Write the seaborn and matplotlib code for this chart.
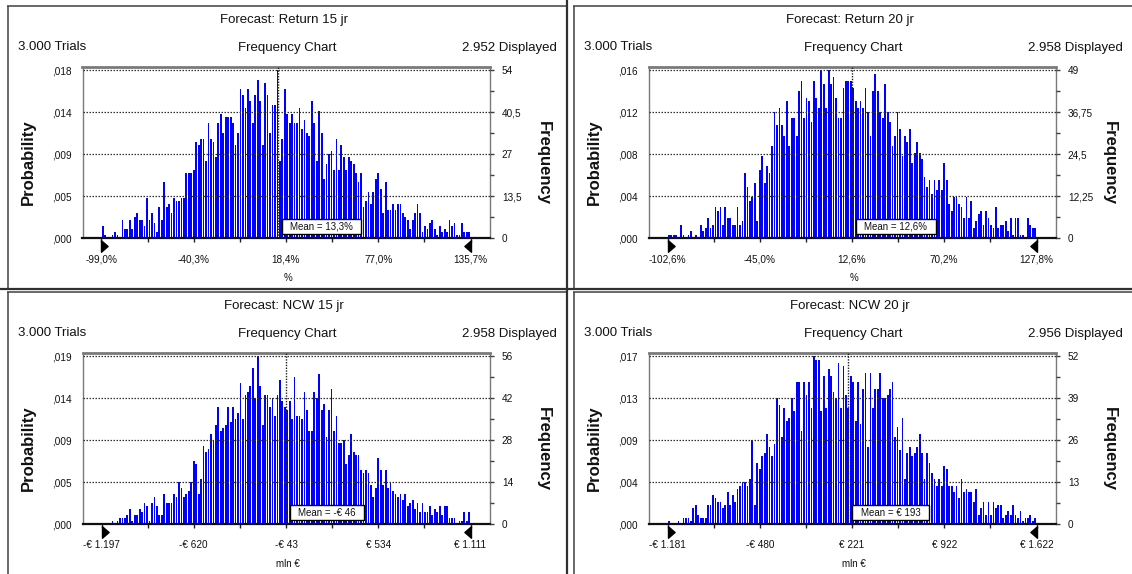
import numpy as np
import pandas as pd
import matplotlib
matplotlib.use("Agg")
import matplotlib.pyplot as plt
import seaborn as sns
from matplotlib.path import Path
from matplotlib.lines import Line2D
from matplotlib.transforms import blended_transform_factory

sns.set_style("white")
plt.rcParams["font.family"] = ["Liberation Sans", "DejaVu Sans"]

W, H = 1132, 574

# ---------------- data ----------------
titles = ["Forecast: Return 15 jr", "Forecast: Return 20 jr",
          "Forecast: NCW 15 jr", "Forecast: NCW 20 jr"]
trials = ["3.000 Trials", "3.000 Trials", "3.000 Trials", "3.000 Trials"]
displayed = ["2.952 Displayed", "2.958 Displayed", "2.958 Displayed", "2.956 Displayed"]
ranges = [(-99.0, 135.7), (-102.6, 127.8), (-1197.0, 1111.0), (-1180.6, 1622.4)]
means = [13.3, 12.6, -46.0, 193.0]
mean_labels = ["Mean = 13,3%", "Mean = 12,6%", "Mean = -€ 46", "Mean = € 193"]
x_labels = [["-99,0%", "-40,3%", "18,4%", "77,0%", "135,7%"],
            ["-102,6%", "-45,0%", "12,6%", "70,2%", "127,8%"],
            ["-€ 1.197", "-€ 620", "-€ 43", "€ 534", "€ 1.111"],
            ["-€ 1.181", "-€ 480", "€ 221", "€ 922", "€ 1.622"]]
x_units = ["%", "%", "mln €", "mln €"]
freq_max = [54, 49, 56, 52]
freq_labels = [["0", "13,5", "27", "40,5", "54"],
               ["0", "12,25", "24,5", "36,75", "49"],
               ["0", "14", "28", "42", "56"],
               ["0", "13", "26", "39", "52"]]
prob_labels = [[",000", ",005", ",009", ",014", ",018"],
               [",000", ",004", ",008", ",012", ",016"],
               [",000", ",005", ",009", ",014", ",019"],
               [",000", ",004", ",009", ",013", ",017"]]

counts_return15 = [
    4, 1, 0, 0, 1, 2, 1, 0, 6, 3,
    3, 6, 3, 7, 8, 6, 6, 4, 13, 6,
    8, 5, 2, 10, 6, 18, 10, 11, 8, 13,
    12, 12, 13, 13, 21, 21, 21, 22, 31, 30,
    32, 32, 25, 37, 32, 31, 26, 37, 40, 34,
    39, 39, 39, 37, 30, 34, 48, 46, 42, 48,
    44, 37, 46, 51, 44, 30, 50, 46, 34, 43,
    43, 54, 25, 32, 48, 40, 37, 40, 37, 37,
    42, 35, 38, 34, 33, 44, 37, 25, 41, 34,
    19, 24, 27, 28, 22, 32, 22, 30, 26, 22,
    26, 25, 24, 21, 18, 21, 10, 12, 15, 11,
    15, 19, 21, 16, 8, 18, 9, 9, 11, 9,
    11, 11, 8, 7, 6, 3, 6, 8, 11, 8,
    2, 4, 3, 5, 6, 3, 1, 4, 2, 3,
    2, 6, 4, 5, 1, 1, 5, 2, 2, 2]

counts_return20 = [
    1, 1, 1, 1, 0, 4, 1, 0, 1, 2,
    0, 1, 0, 4, 2, 3, 6, 3, 4, 9,
    8, 9, 4, 9, 6, 6, 4, 4, 9, 4,
    5, 19, 15, 11, 12, 16, 5, 20, 24, 16,
    21, 19, 27, 37, 33, 38, 33, 30, 40, 27,
    35, 35, 30, 43, 46, 35, 41, 40, 34, 46,
    41, 38, 49, 45, 38, 49, 45, 47, 41, 35,
    35, 44, 46, 46, 46, 44, 40, 38, 40, 38,
    44, 37, 30, 43, 48, 43, 37, 35, 45, 37,
    34, 27, 30, 37, 32, 24, 30, 28, 32, 22,
    25, 28, 25, 23, 18, 15, 17, 13, 17, 14,
    17, 14, 22, 17, 10, 8, 12, 12, 10, 9,
    6, 12, 6, 11, 3, 5, 7, 8, 4, 8,
    6, 4, 3, 9, 3, 4, 4, 5, 2, 6,
    1, 6, 6, 1, 1, 0, 6, 4, 3, 3]

counts_ncw15 = [
    0, 0, 0, 0, 1, 0, 1, 2, 2, 2,
    3, 5, 1, 3, 3, 5, 4, 7, 6, 1,
    7, 9, 6, 3, 3, 10, 7, 7, 7, 10,
    9, 14, 12, 9, 10, 11, 14, 21, 20, 10,
    15, 26, 24, 25, 30, 28, 33, 39, 31, 32,
    33, 39, 34, 39, 35, 37, 47, 35, 43, 44,
    46, 52, 42, 56, 46, 33, 43, 43, 39, 42,
    36, 43, 48, 41, 39, 38, 41, 35, 49, 36,
    36, 35, 44, 38, 31, 31, 44, 42, 50, 38,
    40, 29, 38, 45, 31, 36, 27, 27, 28, 20,
    23, 30, 24, 23, 23, 18, 17, 18, 17, 13,
    9, 12, 22, 18, 13, 18, 12, 14, 11, 10,
    9, 10, 8, 10, 6, 7, 8, 5, 7, 4,
    7, 4, 4, 6, 3, 5, 4, 6, 3, 6,
    6, 2, 2, 2, 0, 1, 1, 4, 1, 4]

counts_ncw20 = [
    1, 0, 0, 0, 1, 0, 2, 2, 2, 1,
    5, 6, 3, 2, 2, 2, 6, 6, 9, 8,
    7, 7, 5, 6, 10, 6, 9, 7, 11, 12,
    13, 13, 12, 14, 26, 6, 19, 17, 21, 22,
    28, 24, 21, 25, 39, 37, 27, 36, 32, 33,
    39, 35, 44, 44, 29, 44, 40, 44, 36, 52,
    51, 51, 35, 46, 36, 48, 46, 41, 39, 50,
    36, 49, 40, 36, 46, 44, 32, 44, 31, 42,
    47, 24, 47, 36, 42, 42, 47, 39, 39, 40,
    42, 44, 27, 30, 23, 33, 14, 22, 24, 21,
    22, 24, 28, 22, 14, 22, 19, 16, 14, 12,
    14, 12, 18, 17, 12, 12, 10, 12, 8, 14,
    10, 11, 10, 10, 7, 11, 3, 5, 7, 3,
    7, 3, 7, 5, 6, 6, 2, 3, 4, 3,
    6, 3, 2, 4, 1, 2, 2, 3, 1, 2]

all_counts = [counts_return15, counts_return20, counts_ncw15, counts_ncw20]

# ---------------- layout helpers (pixel based) ----------------
fig = plt.figure(figsize=(W / 100, H / 100), dpi=100)
fig.patch.set_facecolor("white")


def fx(px):
    return px / W


def fy(py):
    return 1 - py / H


def fig_line(x0, y0, x1, y1, lw=1.0, color="#404040"):
    fig.add_artist(Line2D([fx(x0), fx(x1)], [fy(y0), fy(y1)], transform=fig.transFigure,
                          lw=lw, color=color, solid_capstyle="butt"))


def wide_box(x0, y0, width, height, mutation_size):
    padx = 0.85 * mutation_size
    pady = 0.22 * mutation_size
    xa, ya = x0 - padx, y0 - pady
    xb, yb = x0 + width + padx, y0 + height + pady
    return Path([(xa, ya), (xb, ya), (xb, yb), (xa, yb), (xa, ya)], closed=True)


tri_right = Path([(0, -1), (0, 1), (1.15, 0), (0, -1)], closed=True)
tri_left = Path([(0, -1), (0, 1), (-1.15, 0), (0, -1)], closed=True)

origins = [(0, 0), (566, 0), (0, 286), (566, 286)]
AX_L, AX_R, AX_T, AX_B = 82.5, 490.0, 66.7, 238.3
BAR_L, BAR_R = 101.5, 470.5

for k, (ox, oy) in enumerate(origins):
    lo, hi = ranges[k]
    R = hi - lo
    counts = np.array(all_counts[k], dtype=float)
    n = len(counts)
    edges = np.linspace(lo, hi, n + 1)
    centers = (edges[:-1] + edges[1:]) / 2
    df = pd.DataFrame({"value": centers, "count": counts})
    fmax = freq_max[k]
    levels = np.linspace(0, fmax, 5)

    ax = fig.add_axes([fx(ox + AX_L), fy(oy + AX_B), (AX_R - AX_L) / W, (AX_B - AX_T) / H])
    sns.histplot(data=df, x="value", weights="count", bins=list(edges), shrink=0.72,
                 color="#0000ff", alpha=1, linewidth=0, ax=ax, zorder=2)
    per_px = R / (BAR_R - BAR_L)
    ax.set_xlim(lo - (BAR_L - AX_L) * per_px, hi + (AX_R - BAR_R) * per_px)
    ax.set_ylim(0, fmax * 1.022)
    ax.set_xlabel("")
    ax.set_ylabel("")

    # grid lines (dotted) at major levels
    for lv in levels[1:]:
        ax.axhline(lv, color="#303030", lw=0.9, ls=(0, (1.2, 1.2)), zorder=3)

    # mean line and box
    ax.axvline(means[k], color="#202020", lw=1.0, ls=(0, (1, 1)), zorder=4)
    ax.annotate(mean_labels[k], xy=(means[k], 0), xycoords=("data", "axes fraction"),
                xytext=(4 + 8.3, 4.5 + 2.2), textcoords="offset pixels",
                ha="left", va="bottom", fontsize=7, color="#111111", zorder=6,
                bbox=dict(boxstyle=wide_box, fc="white", ec="black", lw=1.0))

    # x ticks
    major = np.linspace(lo, hi, 5)
    minor = np.linspace(lo, hi, 9)[1::2]
    ax.set_xticks(major)
    ax.set_xticklabels(x_labels[k])
    ax.set_xticks(minor, minor=True)
    ax.tick_params(axis="x", which="both", direction="out", length=3, width=1,
                   colors="#202020", labelsize=7.2, pad=8.5, bottom=True)
    ax.tick_params(axis="x", labelcolor="#111111")

    # left (probability) axis
    ax.set_yticks(levels)
    ax.set_yticklabels(prob_labels[k])
    ax.tick_params(axis="y", which="both", length=0, labelsize=7.2, pad=7.5,
                   labelcolor="#111111", left=True)

    # right (frequency) axis
    ax2 = ax.twinx()
    ax2.set_ylim(ax.get_ylim())
    ax2.set_yticks(levels)
    ax2.set_yticklabels(freq_labels[k])
    ax2.set_yticks((levels[:-1] + levels[1:]) / 2, minor=True)
    ax2.tick_params(axis="y", which="both", direction="out", length=3, width=1,
                    colors="#404040", labelsize=7.2, pad=5.5)
    ax2.tick_params(axis="y", labelcolor="#111111")
    for s in ax2.spines.values():
        s.set_visible(False)

    for side in ["left", "right"]:
        ax.spines[side].set_visible(True)
        ax.spines[side].set_color("#7a7a7a")
        ax.spines[side].set_linewidth(1.0)
    ax.spines["top"].set_visible(True)
    ax.spines["top"].set_color("#7a7a7a")
    ax.spines["top"].set_linewidth(2.0)
    ax.spines["bottom"].set_visible(True)
    ax.spines["bottom"].set_color("#101010")
    ax.spines["bottom"].set_linewidth(1.6)

    # range triangles
    tr = blended_transform_factory(ax.transData, ax.transAxes)
    ax.plot([lo], [-0.047], marker=tri_right, ms=9.5, color="black", transform=tr,
            clip_on=False, zorder=7, ls="none")
    ax.plot([hi], [-0.047], marker=tri_left, ms=9.5, color="black", transform=tr,
            clip_on=False, zorder=7, ls="none")

    # header texts
    fig.text(fx(ox + 284), fy(oy + 20.5), titles[k], ha="center", va="center", fontsize=9.5,
             color="#111111")
    fig.text(fx(ox + 18), fy(oy + 47.5), trials[k], ha="left", va="center", fontsize=9.5,
             color="#111111")
    fig.text(fx(ox + 287), fy(oy + 47.5), "Frequency Chart", ha="center", va="center",
             fontsize=9.5, color="#111111")
    fig.text(fx(ox + 557), fy(oy + 47.5), displayed[k], ha="right", va="center", fontsize=9.5,
             color="#111111")
    fig.text(fx(ox + 28), fy(oy + 162.5), "Probability", rotation=90, ha="center",
             va="center", fontsize=12, fontweight="bold", color="#111111")
    fig.text(fx(ox + 543), fy(oy + 163), "Frequency", rotation=-90, ha="center",
             va="center", fontsize=12, fontweight="bold", color="#111111")
    fig.text(fx(ox + 288), fy(oy + 278), x_units[k], ha="center", va="center", fontsize=7,
             color="#111111")

    # panel frame lines
    fig_line(ox + 7.5, oy + 6, ox + 7.5, oy + 288, lw=1.1)
    fig_line(ox + 7, oy + 6, ox + 566, oy + 6, lw=1.1)

# dividers between panels
fig_line(566.5, 0, 566.5, H, lw=1.6, color="#303030")
fig_line(0, 288.5, W, 288.5, lw=1.6, color="#303030")

fig.savefig("out.png", dpi=100, facecolor="white")
